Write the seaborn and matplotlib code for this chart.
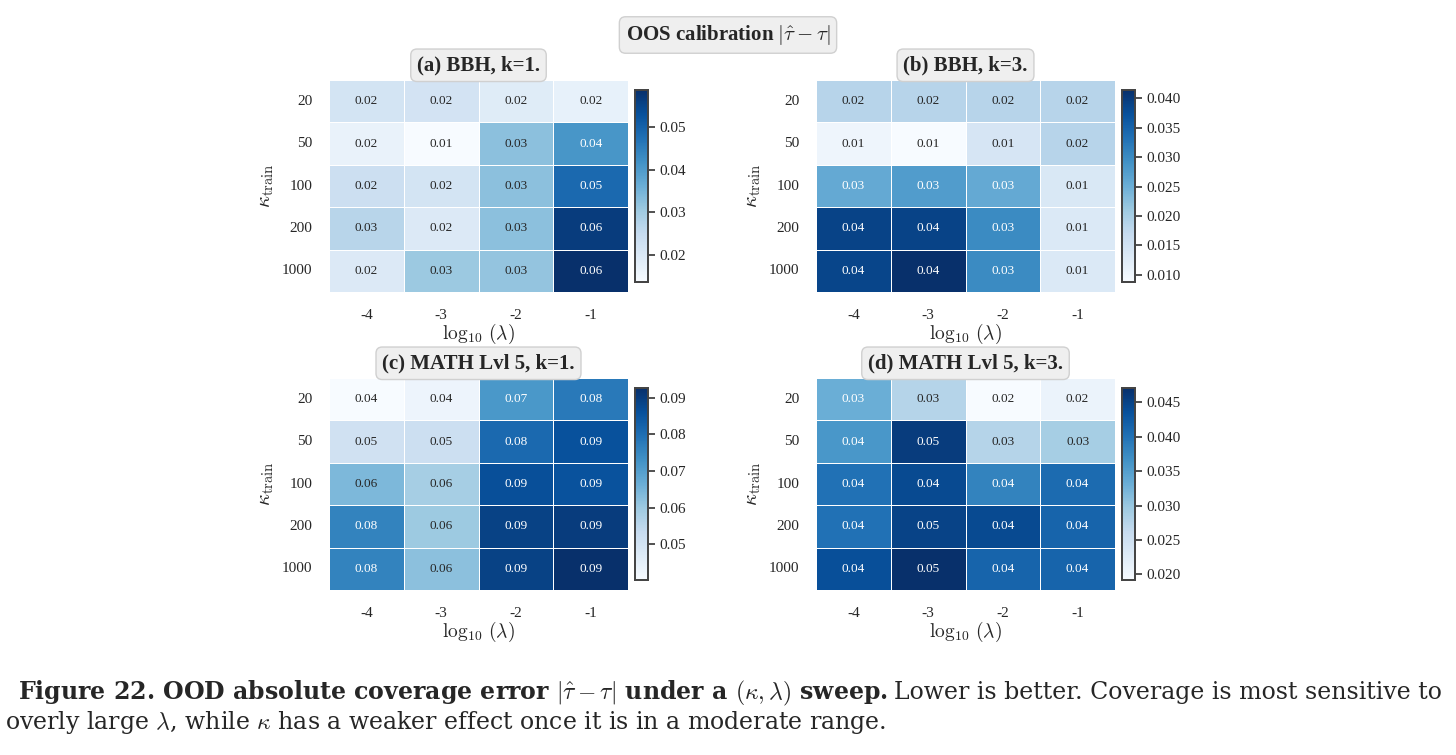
import numpy as np
import pandas as pd
import seaborn as sns
from matplotlib import pyplot as plt
from matplotlib.ticker import MultipleLocator

kappa = [20, 50, 100, 200, 1000]
log_lambda = [-4, -3, -2, -1]

bbh_k1 = [
    [0.0218, 0.0220, 0.0190, 0.0173],
    [0.0170, 0.0137, 0.0326, 0.0410],
    [0.0236, 0.0218, 0.0326, 0.0488],
    [0.0270, 0.0200, 0.0326, 0.0565],
    [0.0200, 0.0308, 0.0317, 0.0587],
]
bbh_k3 = [
    [0.0186, 0.0186, 0.0186, 0.0186],
    [0.0104, 0.0088, 0.0143, 0.0186],
    [0.0258, 0.0277, 0.0258, 0.0137],
    [0.0391, 0.0391, 0.0300, 0.0134],
    [0.0388, 0.0414, 0.0300, 0.0134],
]
math_k1 = [
    [0.0403, 0.0430, 0.0717, 0.0780],
    [0.0508, 0.0518, 0.0810, 0.0860],
    [0.0640, 0.0586, 0.0863, 0.0858],
    [0.0760, 0.0600, 0.0890, 0.0900],
    [0.0760, 0.0622, 0.0890, 0.0926],
]
math_k3 = [
    [0.0332, 0.0276, 0.0192, 0.0209],
    [0.0360, 0.0457, 0.0276, 0.0290],
    [0.0401, 0.0443, 0.0382, 0.0407],
    [0.0401, 0.0451, 0.0443, 0.0415],
    [0.0438, 0.0471, 0.0415, 0.0415],
]

titles = ["(a) BBH, k=1.", "(b) BBH, k=3.", "(c) MATH Lvl 5, k=1.", "(d) MATH Lvl 5, k=3."]
panels = [bbh_k1, bbh_k3, math_k1, math_k3]
cbar_steps = [0.01, 0.005, 0.01, 0.005]

sns.set_theme(style="white")
plt.rcParams["font.family"] = ["Liberation Serif", "DejaVu Serif"]
plt.rcParams["mathtext.fontset"] = "cm"

fig = plt.figure(figsize=(14.56, 7.55), dpi=100)
W, H = 1456, 755

ax_boxes = [(329, 80), (816, 80), (329, 378), (816, 378)]
cb_boxes = [(635, 90), (1122, 90), (635, 388), (1122, 388)]
box = dict(boxstyle="round,pad=0.3", fc="#efefef", ec="#d0d0d0", lw=1)

for vals, title, step, (ax_x, ax_y), (cb_x, cb_y) in zip(panels, titles, cbar_steps, ax_boxes, cb_boxes):
    ax = fig.add_axes([ax_x / W, 1 - (ax_y + 212) / H, 299 / W, 212 / H])
    cax = fig.add_axes([cb_x / W, 1 - (cb_y + 192) / H, 13 / W, 192 / H])
    df = pd.DataFrame(vals, index=kappa, columns=log_lambda)
    sns.heatmap(df, ax=ax, cbar_ax=cax, cmap="Blues", annot=True, fmt=".2f",
                linewidths=0.6, linecolor="white", annot_kws={"size": 9.5})
    ax.tick_params(length=0, pad=12, labelsize=11, rotation=0)
    ax.set_xlabel(r"$\log_{10}\,(\lambda)$", fontsize=14, labelpad=0)
    ax.set_ylabel(r"$\kappa_{\rm train}$", fontsize=15, labelpad=4)
    ax.set_title(title, fontsize=15, fontweight="bold", bbox=box, pad=7)
    cax.yaxis.set_major_locator(MultipleLocator(step))
    cax.yaxis.set_ticks_position("right")
    cax.tick_params(length=5, width=1.2, color="#333333", labelsize=11, right=True, pad=3)
    for sp in cax.spines.values():
        sp.set_visible(True)
        sp.set_edgecolor("#444444")
        sp.set_linewidth(1.3)

fig.text(0.5, 1 - 35 / H, r"OOS calibration $|\hat{\tau}-\tau|$", ha="center", va="center",
         fontsize=15, fontweight="bold", bbox=box)

# caption
renderer = fig.canvas.get_renderer()
cap_font = "DejaVu Serif"
cap_size = 17
t1 = fig.text(18 / W, 1 - 693 / H,
              r"Figure 22. OOD absolute coverage error $|\hat{\tau}-\tau|$ under a $(\kappa,\lambda)$ sweep.",
              fontsize=cap_size, fontweight="bold", va="center", ha="left", family=cap_font)
bb = t1.get_window_extent(renderer=renderer)
fig.text(bb.x1 / W + 6 / W, 1 - 693 / H,
         "Lower is better. Coverage is most sensitive to",
         fontsize=cap_size, va="center", ha="left", family=cap_font)
fig.text(5 / W, 1 - 723 / H,
         r"overly large $\lambda$, while $\kappa$ has a weaker effect once it is in a moderate range.",
         fontsize=cap_size, va="center", ha="left", family=cap_font)

fig.savefig("out.png", dpi=100, facecolor="white")
